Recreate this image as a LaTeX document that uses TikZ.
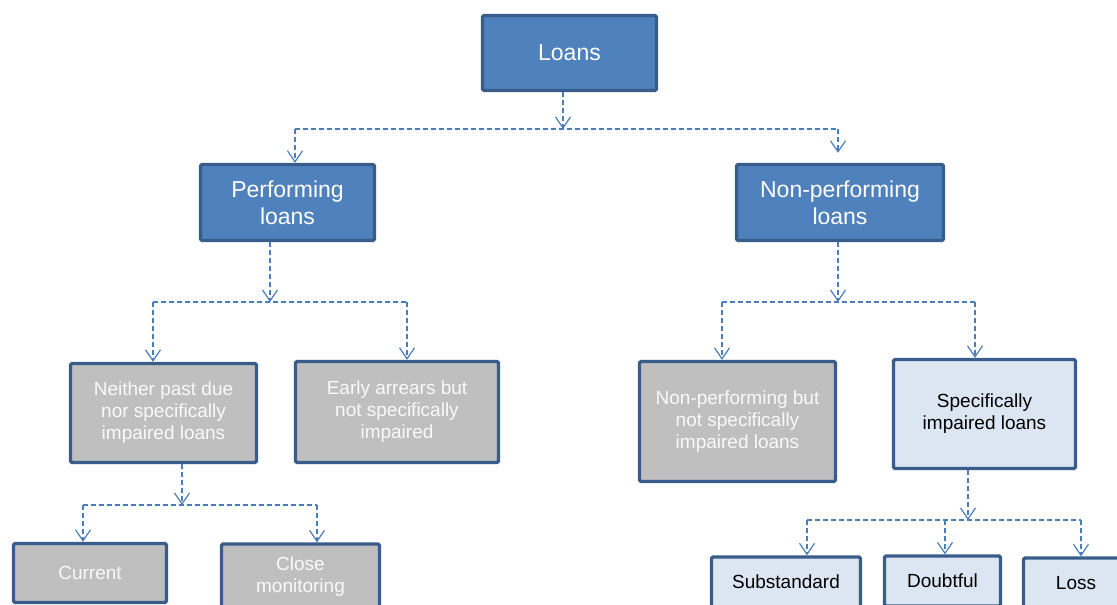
\documentclass[tikz,border=0pt]{standalone}
\usepackage{fontspec}
\setmainfont{Liberation Sans}
\usetikzlibrary{arrows.meta,positioning}
\definecolor{loanblue}{HTML}{4F81BD}
\definecolor{loanedge}{HTML}{385D8A}
\definecolor{loangray}{HTML}{BFBFBF}
\definecolor{loanlight}{HTML}{DCE6F2}
\definecolor{linkblue}{HTML}{4A7EBB}

\begin{document}
\begin{tikzpicture}[
  x=1pt,y=-1pt,
  >={Straight Barb[length=11pt,width=15pt]},
  box/.style={draw=loanedge,line width=3.3pt,rounded corners=1.5pt,align=center,inner sep=2pt},
  main/.style={box,fill=loanblue,text=white,font=\fontsize{23}{27}\selectfont},
  grey/.style={box,fill=loangray,text=white!96!gray,font=\fontsize{19}{22}\selectfont},
  pale/.style={box,fill=loanlight,text=black,font=\fontsize{19}{22}\selectfont},
  link/.style={draw=linkblue,line width=1.2pt,dash pattern=on 5pt off 3pt},
]
\useasboundingbox (0,0) rectangle (1117,605);
\clip (0,0) rectangle (1117,605);

% ---------- top two levels ----------
\node[main,minimum width=174pt,minimum height=75pt] (loans) at (569.5,53) {Loans};
\node[main,minimum width=174pt,minimum height=76pt] (perf) at (287.5,202.5) {Performing\\loans};
\node[main,minimum width=207pt,minimum height=76pt] (nonperf) at (840,202.5) {Non-performing\\loans};

% ---------- performing side ----------
\node[grey,minimum width=186pt,minimum height=99pt] (neither) at (163.5,413) {Neither past due\\nor specifically\\impaired loans};
\node[grey,minimum width=203pt,minimum height=101pt] (early) at (397,412) {Early arrears but\\not specifically\\impaired};
\node[grey,minimum width=153pt,minimum height=59pt] (current) at (90,573) {Current};
\node[grey,minimum width=158pt,minimum height=66pt] (close) at (300.5,577) {Close\\monitoring};

% ---------- non-performing side ----------
\node[grey,minimum width=196pt,minimum height=120pt] (npnot) at (737.5,421.5) {Non-performing but\\not specifically\\impaired loans};
\node[pale,minimum width=182pt,minimum height=109pt] (specific) at (984.5,414) {Specifically\\impaired loans};
\node[pale,minimum width=149pt,minimum height=50pt] (substd) at (786,582) {Substandard};
\node[pale,minimum width=116pt,minimum height=50pt] (doubt) at (942.5,581) {Doubtful};
\node[pale,minimum width=105pt,minimum height=50pt] (loss) at (1076,583) {Loss};

% ---------- dashed branches ----------
\coordinate (j0) at (563,129);
\coordinate (l0) at (295,129);
\coordinate (r0) at (838,129);
\draw[link,->] (j0 |- loans.south) -- (j0);
\draw[link] (l0) -- (r0);
\draw[link,->] (l0) -- (l0 |- perf.north);
\draw[link,->] (r0) -- ([yshift=10pt]r0 |- nonperf.north);

\coordinate (j1) at (270,302);
\coordinate (l1) at (153,302);
\coordinate (r1) at (407,302);
\draw[link,->] (j1 |- perf.south) -- (j1);
\draw[link] (l1) -- (r1);
\draw[link,->] (l1) -- (l1 |- neither.north);
\draw[link,->] (r1) -- (r1 |- early.north);

\coordinate (j2) at (838,302);
\coordinate (l2) at (722,302);
\coordinate (r2) at (975,302);
\draw[link,->] (j2 |- nonperf.south) -- (j2);
\draw[link] (l2) -- (r2);
\draw[link,->] (l2) -- (l2 |- npnot.north);
\draw[link,->] (r2) -- (r2 |- specific.north);

\coordinate (j3) at (182,505);
\coordinate (l3) at (83,505);
\coordinate (r3) at (317,505);
\draw[link,->] (j3 |- neither.south) -- (j3);
\draw[link] (l3) -- (r3);
\draw[link,->] (l3) -- (l3 |- current.north);
\draw[link,->] (r3) -- (r3 |- close.north);

\coordinate (j4) at (968,520);
\coordinate (l4) at (807,520);
\coordinate (m4) at (945,520);
\coordinate (r4) at (1081,520);
\draw[link,->] (j4 |- specific.south) -- (j4);
\draw[link] (l4) -- (r4);
\draw[link,->] (l4) -- (l4 |- substd.north);
\draw[link,->] (m4) -- (m4 |- doubt.north);
\draw[link,->] (r4) -- (r4 |- loss.north);

\end{tikzpicture}
\end{document}
